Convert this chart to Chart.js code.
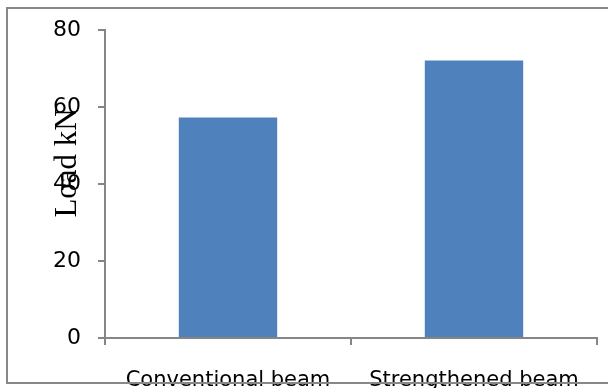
<!DOCTYPE html>
<html>
<head>
<meta charset="utf-8">
<script src="https://cdn.jsdelivr.net/npm/chart.js@4/dist/chart.umd.min.js"></script>
<style>
  html, body { margin: 0; padding: 0; background: #ffffff; overflow: hidden; }
  #wrap { width: 608px; height: 388px; position: relative; overflow: hidden; }
</style>
</head>
<body>
<div id="wrap"><canvas id="c" width="608" height="388"></canvas></div>
<script>
// Ultimate load of the two beam types
const categories = ['Conventional beam', 'Strengthened beam'];
const loadValues = [57.3, 72.1];
const yTicks = [0, 20, 40, 60, 80];
const yTitle = 'Load kN';

const axisGrey = '#868686';

// Frame round the chart (open on the right) and the rotated axis title
const framePlugin = {
  id: 'frame',
  afterDraw(chart) {
    const ctx = chart.ctx;
    const y = chart.scales.y;
    ctx.save();
    ctx.font = '31px "Liberation Serif", "Times New Roman", serif';
    ctx.fillStyle = '#000000';
    ctx.textAlign = 'center';
    ctx.textBaseline = 'middle';
    ctx.translate(68, y.getPixelForValue(45.5));
    ctx.rotate(-Math.PI / 2);
    ctx.fillText(yTitle, 0, 0);
    ctx.restore();

    ctx.save();
    ctx.fillStyle = '#888888';
    ctx.fillRect(6, 7, chart.width - 6, 2);    // top edge
    ctx.fillRect(6, 7, 2, 377);                // left edge
    ctx.fillRect(6, 382, chart.width - 6, 2);  // bottom edge
    ctx.restore();
  }
};

new Chart(document.getElementById('c'), {
  type: 'bar',
  data: {
    labels: categories,
    datasets: [{
      data: loadValues,
      backgroundColor: '#4F81BD',
      borderWidth: 0,
      barPercentage: 0.4,
      categoryPercentage: 1.0
    }]
  },
  options: {
    responsive: false,
    animation: false,
    devicePixelRatio: 1,
    layout: { padding: { left: 53, right: 11, top: 25, bottom: 0 } },
    plugins: {
      legend: { display: false },
      tooltip: { enabled: false }
    },
    scales: {
      x: {
        offset: true,
        grid: {
          offset: true,
          drawOnChartArea: false,
          drawTicks: true,
          tickLength: 7,
          color: axisGrey,
          lineWidth: 2
        },
        border: { display: true, color: axisGrey, width: 2 },
        ticks: {
          color: '#000000',
          padding: 23,
          maxRotation: 0,
          autoSkip: false,
          font: { family: '"DejaVu Sans", sans-serif', size: 21 }
        },
        afterFit(scale) { scale.height = 50; }
      },
      y: {
        min: yTicks[0],
        max: yTicks[yTicks.length - 1],
        afterBuildTicks(scale) { scale.ticks = yTicks.map(v => ({ value: v })); },
        grid: {
          drawOnChartArea: false,
          drawTicks: true,
          tickLength: 7,
          color: axisGrey,
          lineWidth: 2
        },
        border: { display: true, color: axisGrey, width: 2 },
        ticks: {
          color: '#000000',
          padding: 17,
          font: { family: '"DejaVu Sans", sans-serif', size: 22 }
        },
        afterFit(scale) { scale.width = 52; }
      }
    }
  },
  plugins: [framePlugin]
});
</script>
</body>
</html>
